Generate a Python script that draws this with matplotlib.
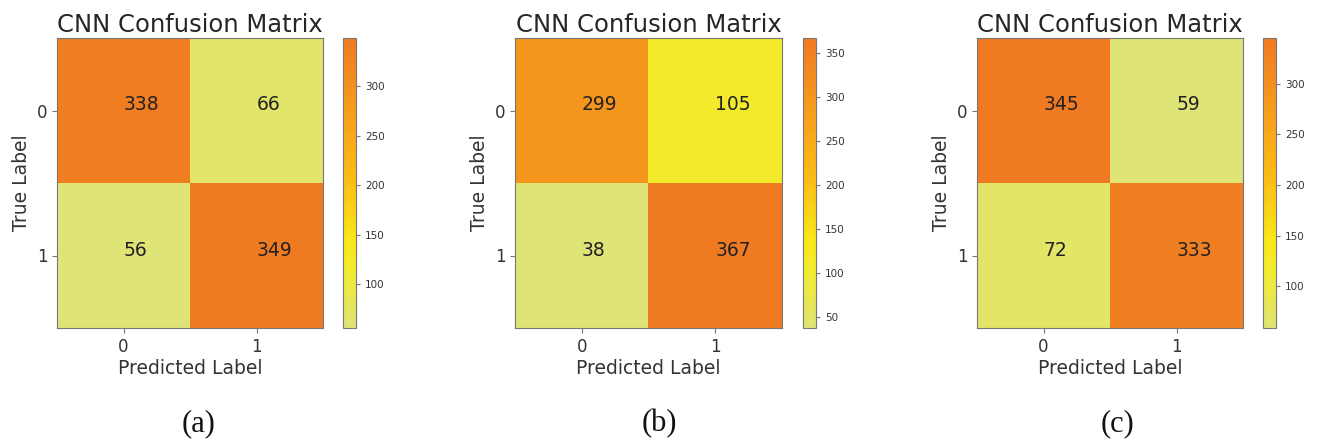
import numpy as np
import matplotlib
matplotlib.use("Agg")
import matplotlib.pyplot as plt
from matplotlib.colors import LinearSegmentedColormap

# Confusion matrices for the three runs
cm_a = [[338, 66], [56, 349]]
cm_b = [[299, 105], [38, 367]]
cm_c = [[345, 59], [72, 333]]
matrices = [cm_a, cm_b, cm_c]
panel_labels = ["(a)", "(b)", "(c)"]
class_ticks = ["0", "1"]

cmap = LinearSegmentedColormap.from_list(
    "cnn_cm",
    [(0.0, "#dfe476"), (0.2, "#f2eb2c"), (0.3, "#f8e81a"),
     (0.5, "#fbbf14"), (0.8, "#f5961d"), (1.0, "#f07a22")],
)

W, H = 1319, 443
fig = plt.figure(figsize=(W / 100, H / 100), dpi=100)

# pixel positions of each heatmap and its colorbar (left, right)
ax_px = [(57, 323), (515, 782), (977, 1243)]
cb_px = [(343, 356), (803, 816), (1263, 1276)]
lab_px = [199, 659, 1118]
top, bottom = 38, 328

text_col = "#333333"
edge_col = "#777777"

for cm, lab, (l, r), (cl, cr), lx in zip(matrices, panel_labels, ax_px, cb_px, lab_px):
    cm = np.array(cm)
    ax = fig.add_axes([l / W, 1 - bottom / H, (r - l) / W, (bottom - top) / H])
    im = ax.imshow(cm, cmap=cmap, aspect="auto")
    # default text anchoring (left / baseline) like the original
    for i in range(2):
        for j in range(2):
            ax.text(j, i, str(cm[i, j]), fontsize=13.5, color="#222222")
    ax.set_xticks([0, 1])
    ax.set_yticks([0, 1])
    ax.set_xticklabels(class_ticks, fontsize=12, color=text_col)
    ax.set_yticklabels(class_ticks, fontsize=12, color=text_col)
    ax.tick_params(colors=edge_col, labelcolor=text_col)
    ax.set_xlabel("Predicted Label", fontsize=13.5, color=text_col, labelpad=2)
    ax.set_ylabel("True Label", fontsize=13.5, color=text_col)
    ax.set_title("CNN Confusion Matrix", fontsize=17.5, color="#262626", pad=4)
    for s in ax.spines.values():
        s.set_color(edge_col)

    cax = fig.add_axes([cl / W, 1 - bottom / H, (cr - cl) / W, (bottom - top) / H])
    cb = fig.colorbar(im, cax=cax)
    cb.ax.tick_params(labelsize=7.5, colors=edge_col, labelcolor=text_col, length=3)
    cb.outline.set_edgecolor(edge_col)

    fig.text(lx / W, 1 - 424 / H, lab, ha="center", va="center",
             fontsize=22, family="Liberation Serif", color="#111111")

fig.savefig("out.png", dpi=100)
